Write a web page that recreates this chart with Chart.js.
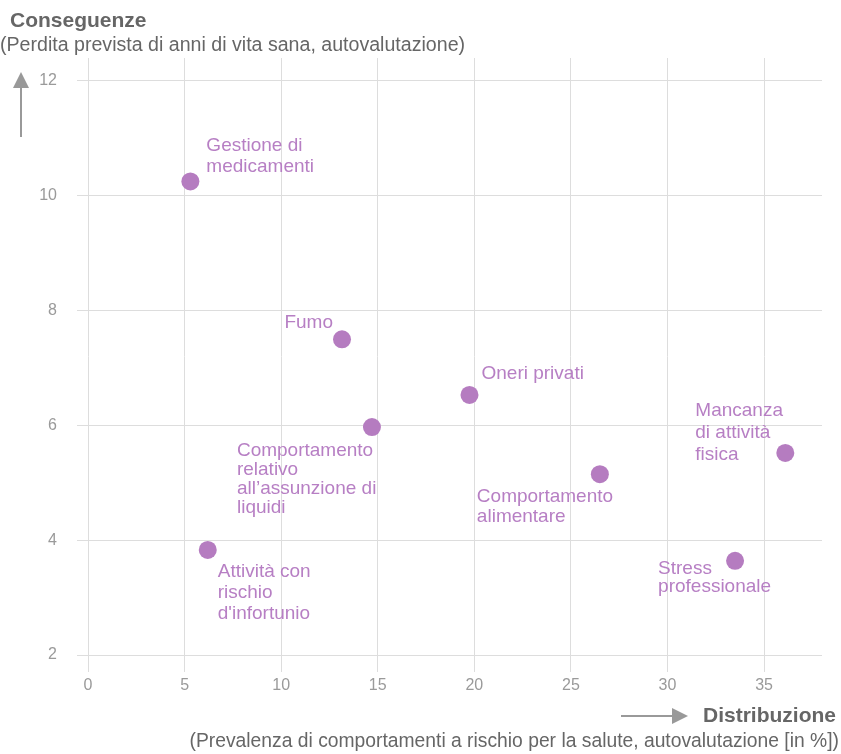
<!DOCTYPE html>
<html>
<head>
<meta charset="utf-8">
<script src="https://cdn.jsdelivr.net/npm/chart.js@4.4.1/dist/chart.umd.min.js"></script>
<style>
  html, body { margin: 0; padding: 0; background: #fff; }
  canvas { display: block; }
</style>
</head>
<body>
<canvas id="c" width="841" height="754"></canvas>
<script>
// ---- Data ----
const categories = [
  "Gestione di\nmedicamenti",
  "Fumo",
  "Oneri privati",
  "Comportamento\nrelativo\nall\u2019assunzione di\nliquidi",
  "Comportamento\nalimentare",
  "Mancanza\ndi attività\nfisica",
  "Stress\nprofessionale",
  "Attività con\nrischio\nd'infortunio"
];
const distribuzione = [5.3, 13.15, 19.75, 14.7, 26.5, 36.1, 33.5, 6.2];
const conseguenze  = [10.25, 7.5, 6.53, 5.97, 5.15, 5.52, 3.64, 3.83];
const xTicks = [0, 5, 10, 15, 20, 25, 30, 35];
const yTicks = [2, 4, 6, 8, 10, 12];

const yTitle = "Conseguenze";
const ySubtitle = "(Perdita prevista di anni di vita sana, autovalutazione)";
const xTitle = "Distribuzione";
const xSubtitle = "(Prevalenza di comportamenti a rischio per la salute, autovalutazione [in %])";

// ---- Label placement (layout, relative to each point) ----
const labelPlacement = [
  { dx: 16,   dy: -36, align: "left",  lh: 21 },
  { dx: -9,   dy: -17, align: "right", lh: 20 },
  { dx: 12,   dy: -21, align: "left",  lh: 20 },
  { dx: -135, dy: 24,  align: "left",  lh: 19 },
  { dx: -123, dy: 23,  align: "left",  lh: 20 },
  { dx: -90,  dy: -42, align: "left",  lh: 22 },
  { dx: -77,  dy: 8,   align: "left",  lh: 18 },
  { dx: 10,   dy: 22,  align: "left",  lh: 21 }
];

const FONT = "'Liberation Sans', Arial, Helvetica, sans-serif";
const pointColor = "#b57cc0";
const labelColor = "#b77fc4";
const gridColor = "#dddddd";
const tickColor = "#9a9a9a";
const titleColor = "#666666";
const arrowColor = "#999999";

const points = distribuzione.map((x, i) => ({ x: x, y: conseguenze[i] }));

const decorPlugin = {
  id: "decor",
  afterDatasetsDraw(chart) {
    const ctx = chart.ctx;
    const meta = chart.getDatasetMeta(0);
    ctx.save();
    ctx.fillStyle = labelColor;
    ctx.font = "19px " + FONT;
    ctx.textBaseline = "middle";
    meta.data.forEach((el, i) => {
      const p = labelPlacement[i];
      ctx.textAlign = p.align;
      categories[i].split("\n").forEach((line, j) => {
        ctx.fillText(line, el.x + p.dx, el.y + p.dy + j * p.lh);
      });
    });
    ctx.restore();
  },
  afterDraw(chart) {
    const ctx = chart.ctx;
    ctx.save();
    ctx.fillStyle = titleColor;
    ctx.textBaseline = "middle";
    ctx.textAlign = "left";
    ctx.font = "bold 21px " + FONT;
    ctx.fillText(yTitle, 10, 21);
    ctx.font = "19.6px " + FONT;
    ctx.fillText(ySubtitle, 0, 46);
    ctx.textAlign = "right";
    ctx.font = "bold 21px " + FONT;
    ctx.fillText(xTitle, 836, 716);
    ctx.font = "19.3px " + FONT;
    ctx.fillText(xSubtitle, 839, 742);

    // up arrow
    ctx.strokeStyle = arrowColor;
    ctx.fillStyle = arrowColor;
    ctx.lineWidth = 2;
    ctx.beginPath();
    ctx.moveTo(21, 137);
    ctx.lineTo(21, 86);
    ctx.stroke();
    ctx.beginPath();
    ctx.moveTo(21, 72);
    ctx.lineTo(29, 88);
    ctx.lineTo(13, 88);
    ctx.closePath();
    ctx.fill();

    // right arrow
    ctx.beginPath();
    ctx.moveTo(621, 716);
    ctx.lineTo(674, 716);
    ctx.stroke();
    ctx.beginPath();
    ctx.moveTo(688, 716);
    ctx.lineTo(672, 708);
    ctx.lineTo(672, 724);
    ctx.closePath();
    ctx.fill();
    ctx.restore();
  }
};

new Chart(document.getElementById("c"), {
  type: "scatter",
  data: {
    datasets: [{
      data: points,
      backgroundColor: pointColor,
      borderColor: pointColor,
      borderWidth: 0,
      pointRadius: 9,
      pointHoverRadius: 9
    }]
  },
  options: {
    responsive: false,
    animation: false,
    devicePixelRatio: 1,
    layout: { padding: { top: 58, right: 19, left: 0, bottom: 0 } },
    plugins: { legend: { display: false }, tooltip: { enabled: false } },
    scales: {
      x: {
        type: "linear",
        position: "bottom",
        min: 0,
        max: 38,
        afterBuildTicks(scale) { scale.ticks = xTicks.map(v => ({ value: v })); },
        afterFit(scale) { scale.height = 99; },
        ticks: {
          stepSize: 5,
          includeBounds: false,
          color: tickColor,
          font: { family: FONT, size: 16 },
          padding: 4,
          maxRotation: 0
        },
        grid: { color: gridColor, lineWidth: 1, drawTicks: true, tickLength: 17 },
        border: { display: false }
      },
      y: {
        type: "linear",
        position: "left",
        min: 2,
        max: 12.4,
        afterBuildTicks(scale) { scale.ticks = yTicks.map(v => ({ value: v })); },
        afterFit(scale) { scale.width = 88; },
        ticks: {
          stepSize: 2,
          includeBounds: false,
          color: tickColor,
          font: { family: FONT, size: 16 },
          padding: 20
        },
        grid: { color: gridColor, lineWidth: 1, drawTicks: true, tickLength: 11 },
        border: { display: false }
      }
    }
  },
  plugins: [decorPlugin]
});
</script>
</body>
</html>
